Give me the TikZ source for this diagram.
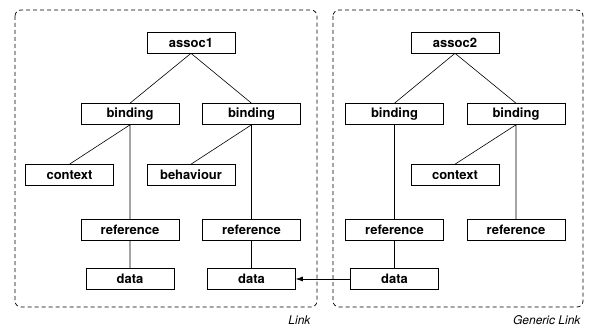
\documentclass[tikz,border=0pt]{standalone}
\usepackage{fontspec}
\setmainfont{TeX Gyre Heros}
\usetikzlibrary{arrows.meta}

\begin{document}
\begin{tikzpicture}[x=1pt, y=-1pt,
	box/.style = {draw, rectangle, line width=.6pt, minimum height=21pt, inner sep=0pt, font=\fontsize{13}{15}\selectfont\bfseries},
	wide/.style = {box, minimum width=98pt},
	narrow/.style = {box, minimum width=88pt},
	group/.style = {draw, dash pattern=on 4pt off 3pt, rounded corners=6pt, line width=.7pt},
	tag/.style = {font=\fontsize{12}{14}\selectfont\itshape, anchor=east}]
\useasboundingbox (0,0) rectangle (597,334);
% groups
\draw [group] (15,10) rectangle (317,307);
\draw [group] (333,10) rectangle (583,307);
\node [tag] (link-tag) at (314,320) {Link};
\node [tag] (generic-tag) at (584,320) {Generic Link};
% Link
\node [narrow] (assoc1) at (191,42.5) {assoc1};
\node [wide] (bind-l1) at (130,114) {binding};
\node [wide] (bind-l2) at (251.5,114) {binding};
\node [narrow] (ctx-l) at (69.5,175) {context};
\node [narrow] (behav) at (191,175) {behaviour};
\node [wide] (ref-l1) at (130,230) {reference};
\node [wide] (ref-l2) at (251.5,230) {reference};
\node [narrow] (data-l1) at (130,279) {data};
\node [narrow] (data-l2) at (251.5,279) {data};
% Generic Link
\node [narrow] (assoc2) at (455,42.5) {assoc2};
\node [wide] (bind-r1) at (394.5,114) {binding};
\node [wide] (bind-r2) at (516,114) {binding};
\node [narrow] (ctx-r) at (455,175) {context};
\node [wide] (ref-r1) at (394.5,230) {reference};
\node [wide] (ref-r2) at (516,230) {reference};
\node [narrow] (data-r) at (394.5,279) {data};
% edges
\draw [line width=.6pt] (assoc1.south) -- (bind-l1.north)
	(assoc1.south) -- (bind-l2.north)
	(bind-l1.south) -- (ctx-l.north)
	(bind-l1.south) -- (ref-l1.north)
	(bind-l2.south) -- (behav.north)
	(bind-l2.south) -- (ref-l2.north)
	(ref-l1) -- (data-l1)
	(ref-l2) -- (data-l2);
\draw [line width=.6pt] (assoc2.south) -- (bind-r1.north)
	(assoc2.south) -- (bind-r2.north)
	(bind-r1.south) -- (ref-r1.north)
	(bind-r2.south) -- (ctx-r.north)
	(bind-r2.south) -- (ref-r2.north)
	(ref-r1) -- (data-r);
\draw [line width=.6pt, -{Latex[length=7pt, width=5pt]}] (data-r.west) -- (data-l2.east);
\end{tikzpicture}
\end{document}
